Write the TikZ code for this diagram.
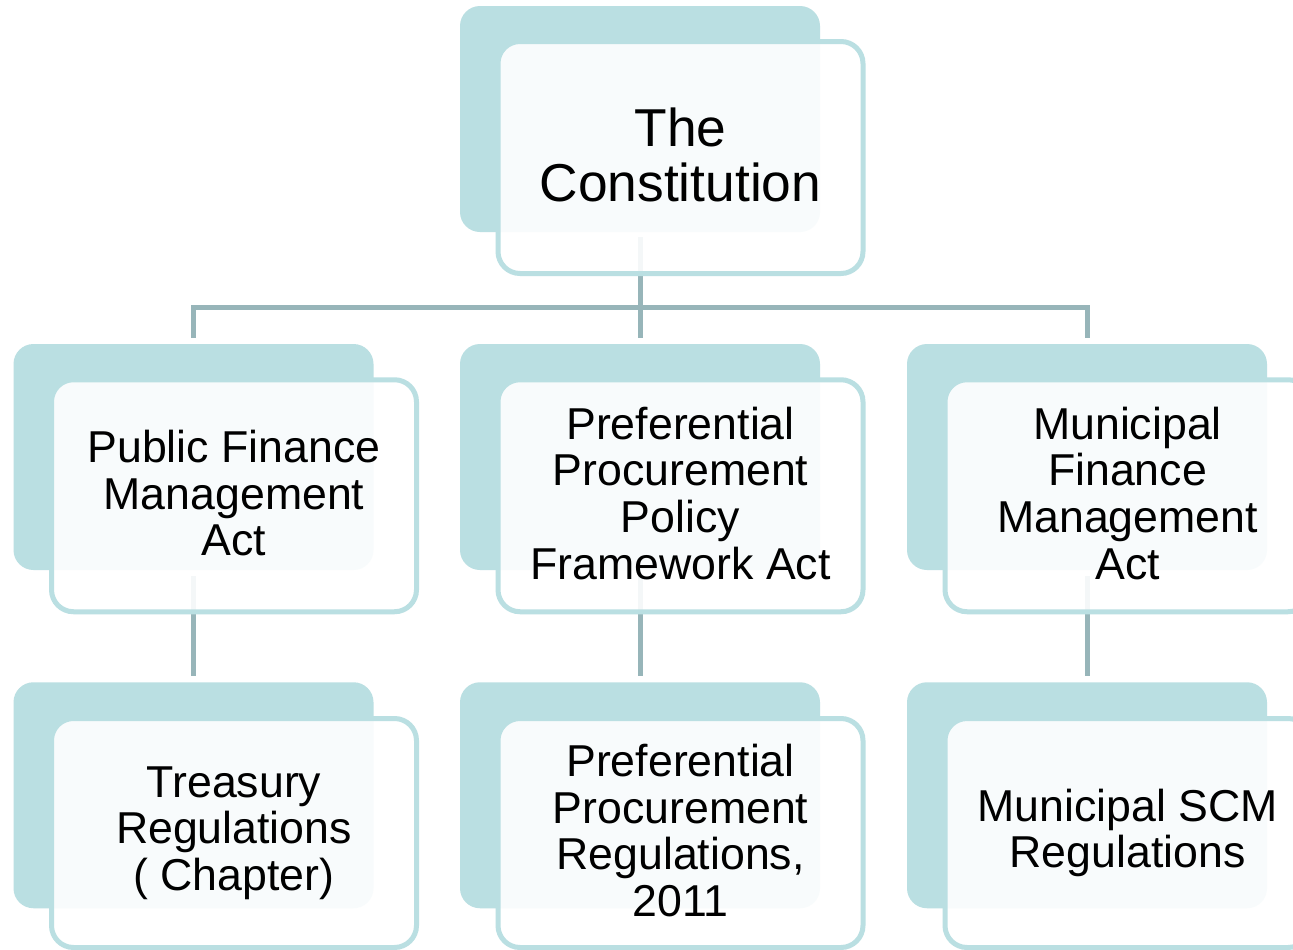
\documentclass[tikz,border=0pt]{standalone}
\usepackage{fontspec}
\setmainfont{Liberation Sans}
\definecolor{tealback}{HTML}{BADFE2}
\definecolor{connline}{HTML}{97B5B9}
% struts that fix the height of the first line and the depth of the last one,
% so every card centres its lines the same way
\newcommand\cardtop{\rule{0pt}{1.05em}}
\newcommand\cardbot{\rule[-0.12em]{0pt}{0.12em}}
\tikzset{
  backbox/.style={rectangle, rounded corners=15pt, fill=tealback, draw=none,
    minimum width=270pt, minimum height=169.5pt, inner sep=0pt},
  frontbox/.style={rectangle, rounded corners=16.5pt, draw=tealback, line width=3.75pt,
    fill=white, fill opacity=0.9, draw opacity=1, text opacity=1,
    minimum width=273.75pt, minimum height=174pt, inner sep=0pt, align=center,
    font=\fontsize{33.5pt}{34.9pt}\selectfont,
    execute at begin node=\cardtop, execute at end node=\cardbot},
  lowbox/.style={frontbox, minimum height=171.75pt},
  topfont/.style={font=\fontsize{40pt}{41.25pt}\selectfont},
  conn/.style={draw=connline, line width=3.75pt}
}
\begin{document}
\begin{tikzpicture}[x=0.75pt,y=-0.75pt]
\clip (0,0) rectangle (1293,950);
\fill[white] (0,0) rectangle (1293,950);

% shaded back plates
\node[backbox] (conB) at (640,119) {};
\node[backbox] (pfB)  at (193.5,457) {};
\node[backbox] (ppB)  at (640,457) {};
\node[backbox] (mfB)  at (1087,457) {};
\node[backbox] (trB)  at (193.5,795.25) {};
\node[backbox] (prB)  at (640,795.25) {};
\node[backbox] (scB)  at (1087,795.25) {};

% connectors
\draw[conn] ([yshift=-3.75pt]conB.south) -- ([yshift=4.5pt]ppB.north);
\draw[conn] ([yshift=4.5pt]pfB.north) -- ++(0,-30.5) -| ([yshift=4.5pt]mfB.north);
\draw[conn] ([yshift=-4.5pt]pfB.south) -- ([yshift=4.5pt]trB.north);
\draw[conn] ([yshift=-4.5pt]ppB.south) -- ([yshift=4.5pt]prB.north);
\draw[conn] ([yshift=-4.5pt]mfB.south) -- ([yshift=4.5pt]scB.north);

% front cards with text
\node[frontbox, topfont] (conF) at (680.5,157.5) {The\\Constitution};
\node[frontbox] (pfF) at (234,495.75) {Public Finance\\Management\\Act};
\node[frontbox] (ppF) at (680.5,495.75) {Preferential\\Procurement\\Policy\\Framework Act};
\node[frontbox] (mfF) at (1127.5,495.75) {Municipal\\Finance\\Management\\Act};
\node[lowbox] (trF) at (234,833) {Treasury\\Regulations\\( Chapter)};
\node[lowbox] (prF) at (680.5,833) {Preferential\\Procurement\\Regulations,\\2011};
\node[lowbox] (scF) at (1127.5,833) {Municipal SCM\\Regulations};
\end{tikzpicture}
\end{document}
